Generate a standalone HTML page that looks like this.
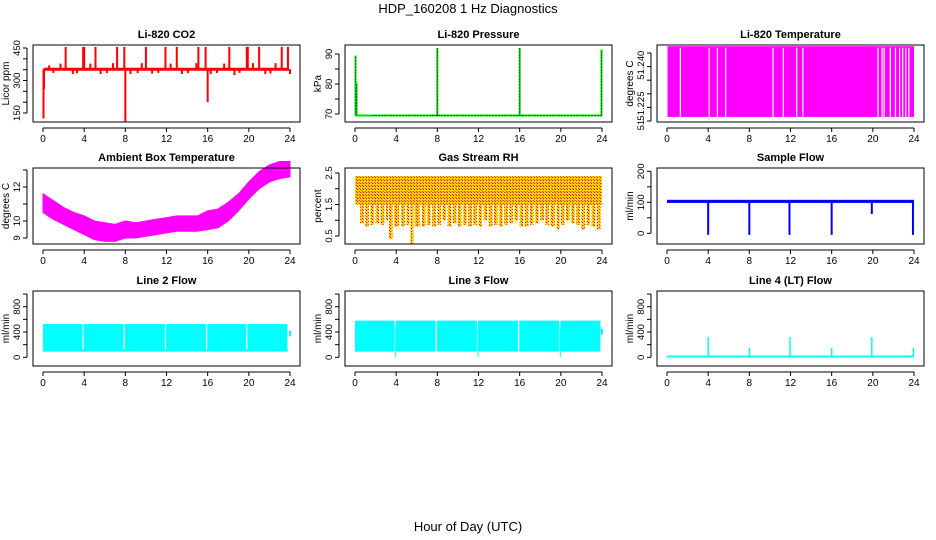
<!DOCTYPE html>
<html><head><meta charset="utf-8"><style>
body{margin:0;background:#fff;}
svg{display:block;font-family:"Liberation Sans",sans-serif;}
</style></head><body>
<svg id="chart" width="936" height="540" viewBox="0 0 936 540" xmlns="http://www.w3.org/2000/svg">
<defs>
<pattern id="rhpat" width="3" height="3" patternUnits="userSpaceOnUse">
<rect width="3" height="3" fill="#ffd000"/><rect width="1" height="1" fill="#ff0000"/><rect x="2" y="2" width="1" height="1" fill="#ff3000"/>
</pattern>
</defs>
<text x="468" y="13" text-anchor="middle" font-size="13">HDP_160208  1 Hz Diagnostics</text>
<text x="468" y="531" text-anchor="middle" font-size="13">Hour of Day (UTC)</text>
</svg>
<script>
// ---- data ----
const xTicks = [0,4,8,12,16,20,24];
// CO2
const co2Base = 352;
const co2SpikeHours = [0.05,0.1,2.2,3.9,4.0,5.1,7.2,7.9,8.0,10.0,11.9,13.0,15.1,15.8,16.0,18.1,19.8,19.9,21.0,23.2,23.8];
const co2SpikeValues = [125,260,455,455,455,455,455,455,108,455,455,455,455,455,200,455,455,455,455,455,455];
const co2SmallHours = [0.6,1.0,1.7,2.9,3.3,4.6,5.6,6.2,6.8,8.5,9.2,9.6,10.6,11.2,12.4,13.5,14.1,14.9,16.3,16.9,17.6,18.6,19.1,20.4,21.6,22.1,22.6,24.0];
const co2SmallValues = [370,335,378,330,333,378,330,334,380,330,334,380,332,335,378,330,334,380,330,335,378,325,335,380,330,332,380,330];
// Pressure
const presBase = 69.5;
const presSpikeHours = [0.05,0.15,8.0,16.0,23.95];
const presSpikeValues = [89.5,80.5,92,92,91.5];
// LI-820 temp
const tempLow = 51.2215, tempHigh = 51.2475;
const tempGapHours = [1.3,4.1,4.9,5.7,10.3,11.3,12.6,13.2,20.5,20.9,21.1,21.7,22.2,22.6,22.9,23.2,23.5];
// Ambient temp
const ambHours = [0,1,2,3,4,5,6,7,8,9,10,11,12,13,14,15,16,17,18,19,20,21,22,23,24];
const ambUpper = [11.6,11.2,10.8,10.5,10.3,10.0,9.9,9.8,10.0,9.9,10.0,10.1,10.2,10.3,10.3,10.3,10.6,10.7,11.1,11.6,12.3,12.9,13.3,13.5,13.5];
const ambLower = [10.5,10.1,9.8,9.5,9.2,8.9,8.8,8.8,9.0,9.0,9.1,9.2,9.3,9.4,9.4,9.4,9.5,9.6,10.0,10.6,11.3,11.9,12.3,12.5,12.6];
// Gas RH
const rhTop = 2.4;
const rhDipHours = [0.1,0.5,1.0,1.5,2.0,2.5,3.0,3.3,3.8,4.5,5.0,5.4,5.8,6.5,7.0,7.5,8.0,8.5,9.0,9.5,10.0,10.5,11.0,11.5,12.0,12.5,13.0,13.5,14.0,14.5,15.0,15.5,16.0,16.5,17.0,17.5,18.0,18.5,19.0,19.6,20.0,20.5,21.0,21.5,22.0,22.5,23.0,23.5,24.0];
const rhDipValues = [1.5,0.9,0.8,0.85,0.9,0.85,1.0,0.4,0.8,0.8,0.85,0.25,0.8,0.8,0.85,0.8,0.85,1.0,0.8,0.9,0.8,0.85,0.8,0.85,0.8,1.0,0.8,0.85,0.8,0.85,0.9,1.0,0.8,0.8,0.85,0.9,1.0,0.85,0.8,0.7,0.85,1.0,0.9,0.85,0.7,0.85,0.8,0.7,1.5];
// Sample flow
const sfBase = 103;
const sfDipHours = [4.0,8.0,11.9,16.0,19.9,23.9];
const sfDipValues = [-5,-5,-5,-5,62,-5];
// Line 2
const l2Low = 90, l2High = 525;
const l2GapHours = [3.9,7.9,11.9,15.9,19.8,23.8];
// Line 3
const l3Low = 90, l3High = 580;
const l3GapHours = [3.9,7.9,11.9,15.9,19.9,23.9];
const l3DipValues = [0,480,0,480,0,400];
// Line 4
const l4Base = 12;
const l4SpikeHours = [4.0,8.0,11.95,16.0,19.9,23.95];
const l4SpikeValues = [320,150,320,150,320,150];

// ---- helpers ----
const svg = document.getElementById('chart');
const NS = 'http://www.w3.org/2000/svg';
function mk(tag, attrs, parent){const e=document.createElementNS(NS,tag);for(const k in attrs)e.setAttribute(k,attrs[k]);(parent||svg).appendChild(e);return e;}
function panel(c,r,opt){
  const L=33+312*c, R=300+312*c, T=[45,168,291][r], B=[122,244,366][r];
  const x0=43+312*c, x1=290+312*c;
  const xs=h=>x0+(x1-x0)*h/24;
  const ys=v=>opt.p0+(opt.p1-opt.p0)*(v-opt.v0)/(opt.v1-opt.v0);
  const g=mk('g',{});
  
  
  const t=mk('text',{x:(L+R)/2,y:T-7,'text-anchor':'middle','font-size':11,'font-weight':'bold'},g);
  t.textContent=opt.title;
  
  
  const plot=mk('g',{},g);
  
  
  opt.draw(plot,xs,ys);
  const box=mk('rect',{x:L,y:T,width:R-L,height:B-T,fill:'none',stroke:'#000','stroke-width':1},g);
  
  
  mk('line',{x1:xs(0),x2:xs(24),y1:B+6,y2:B+6,stroke:'#000'},g);
  xTicks.forEach(h=>{
    mk('line',{x1:xs(h),x2:xs(h),y1:B+6,y2:B+10,stroke:'#000'},g);
    const l=mk('text',{x:xs(h),y:B+20,'text-anchor':'middle','font-size':10},g);
    l.textContent=h;
    
    
  });
  const yt=opt.ticks;
  mk('line',{x1:L-6,x2:L-6,y1:ys(yt[0]),y2:ys(yt[yt.length-1]),stroke:'#000'},g);
  yt.forEach(v=>mk('line',{x1:L-10,x2:L-6,y1:ys(v),y2:ys(v),stroke:'#000'},g));
  opt.labels.forEach((lab,i)=>{
    const y=ys(opt.labelVals[i]);
    const l=mk('text',{x:L-13,y:y,'text-anchor':'middle','font-size':9.5,transform:`rotate(-90 ${L-13} ${y})`},g);
    l.textContent=lab;
    
    
  });
  const yl=mk('text',{x:L-24,y:(T+B)/2,'text-anchor':'middle','font-size':10,transform:`rotate(-90 ${L-24} ${(T+B)/2})`},g);
  yl.textContent=opt.ylab;
  
  
}
function vline(p,x,y1,y2,col,w){return mk('line',{x1:x,x2:x,y1:y1,y2:y2,stroke:col,'stroke-width':w||1},p);}

// CO2
panel(0,0,{name:'co2-panel',title:'Li-820 CO2',ylab:'Licor ppm',v0:450,p0:48,v1:150,p1:113,
  ticks:[150,200,250,300,350,400,450],labels:['150','300','450'],labelVals:[150,300,450],
  draw:(p,xs,ys)=>{
    mk('line',{x1:xs(0.05),x2:xs(23.9),y1:ys(co2Base),y2:ys(co2Base),stroke:'#f00','stroke-width':3},p);
    co2SmallHours.forEach((h,i)=>vline(p,xs(h),ys(co2Base),ys(co2SmallValues[i]),'#f00',2));
    co2SpikeHours.forEach((h,i)=>vline(p,xs(h),ys(co2Base),ys(co2SpikeValues[i]),'#f00',2));
  }});
// Pressure
panel(1,0,{name:'pressure-panel',title:'Li-820 Pressure',ylab:'kPa',v0:90,p0:54,v1:70,p1:114,
  ticks:[70,75,80,85,90],labels:['70','80','90'],labelVals:[70,80,90],
  draw:(p,xs,ys)=>{
    mk('line',{x1:xs(0.05),x2:xs(24),y1:ys(presBase),y2:ys(presBase),stroke:'#00e000','stroke-width':2},p);
    mk('line',{x1:xs(1.7),x2:xs(24),y1:ys(presBase),y2:ys(presBase),stroke:'#000','stroke-width':1,'stroke-dasharray':'1,2'},p);
    presSpikeHours.forEach((h,i)=>{vline(p,xs(h),ys(presBase),ys(presSpikeValues[i]),'#00e000',2);
      mk('line',{x1:xs(h),x2:xs(h),y1:ys(presBase),y2:ys(presSpikeValues[i]),stroke:'#000','stroke-dasharray':'1,2'},p);});
  }});
// LI-820 temperature
panel(2,0,{name:'li820-temperature-panel',title:'Li-820 Temperature',ylab:'degrees C',v0:51.245,p0:53,v1:51.220,p1:121,
  ticks:[51.220,51.225,51.230,51.235,51.240,51.245],labels:['51.225','51.240','51'],labelVals:[51.2255,51.2405,51.2185],
  draw:(p,xs,ys)=>{
    mk('rect',{x:xs(0.05),y:ys(tempHigh),width:xs(24)-xs(0.05),height:ys(tempLow)-ys(tempHigh),fill:'#ff00ff'},p);
    tempGapHours.forEach(h=>vline(p,xs(h),ys(tempHigh)+1.5,ys(tempLow),'#fff',1.2));
  }});
// Ambient
panel(0,1,{name:'ambient-temperature-panel',title:'Ambient Box Temperature',ylab:'degrees C',v0:12,p0:187,v1:9,p1:238,
  ticks:[9,10,11,12,13],labels:['9','10','12'],labelVals:[9,10,12],
  draw:(p,xs,ys)=>{
    let d=ambHours.map((h,i)=>`${i?'L':'M'}${xs(h)},${ys(ambUpper[i])}`).join('');
    for(let i=ambHours.length-1;i>=0;i--)d+=`L${xs(ambHours[i])},${ys(ambLower[i])}`;
    mk('path',{d:d+'Z',fill:'#ff00ff',stroke:'#ff00ff','stroke-width':1},p);
  }});
// Gas RH
panel(1,1,{name:'gas-stream-rh-panel',title:'Gas Stream RH',ylab:'percent',v0:2.5,p0:173,v1:0.5,p1:236,
  ticks:[0.5,1,1.5,2,2.5],labels:['0.5','1.5','2.5'],labelVals:[0.5,1.5,2.5],
  draw:(p,xs,ys)=>{
    mk('rect',{x:xs(0),y:ys(rhTop),width:xs(24)-xs(0),height:ys(1.5)-ys(rhTop),fill:'url(#rhpat)'},p);
    rhDipHours.forEach((h,i)=>{
      const w=i<rhDipHours.length-1?(xs(rhDipHours[i+1])-xs(h)):2;
      mk('rect',{x:xs(h),y:ys(1.5)-1,width:Math.max(1,w*0.7),height:ys(rhDipValues[i])-ys(1.5)+1,fill:'url(#rhpat)'},p);
    });
  }});
// Sample flow
panel(2,1,{name:'sample-flow-panel',title:'Sample Flow',ylab:'ml/min',v0:200,p0:171.3,v1:0,p1:233.3,
  ticks:[0,50,100,150,200],labels:['0','100','200'],labelVals:[0,100,200],
  draw:(p,xs,ys)=>{
    mk('rect',{x:xs(0),y:ys(sfBase+5),width:xs(24)-xs(0),height:ys(sfBase-5)-ys(sfBase+5),fill:'#0000ff'},p);
    sfDipHours.forEach((h,i)=>vline(p,xs(h),ys(sfBase),ys(sfDipValues[i]),'#0000ff',2));
  }});
// Line 2
panel(0,2,{name:'line2-flow-panel',title:'Line 2 Flow',ylab:'ml/min',v0:800,p0:306.7,v1:0,p1:357.3,
  ticks:[0,200,400,600,800,1000],labels:['0','400','800'],labelVals:[0,400,800],
  draw:(p,xs,ys)=>{
    mk('rect',{x:xs(0),y:ys(l2High),width:xs(23.8)-xs(0),height:ys(l2Low)-ys(l2High),fill:'#00ffff'},p);
    l2GapHours.forEach(h=>vline(p,xs(h),ys(l2High),ys(l2Low+30),'#fff',1.2));
    vline(p,xs(24),ys(420),ys(330),'#00ffff',2);
  }});
// Line 3
panel(1,2,{name:'line3-flow-panel',title:'Line 3 Flow',ylab:'ml/min',v0:800,p0:306.7,v1:0,p1:357.3,
  ticks:[0,200,400,600,800,1000],labels:['0','400','800'],labelVals:[0,400,800],
  draw:(p,xs,ys)=>{
    mk('rect',{x:xs(0),y:ys(l3High),width:xs(23.9)-xs(0),height:ys(l3Low)-ys(l3High),fill:'#00ffff'},p);
    l3GapHours.forEach((h,i)=>{vline(p,xs(h),ys(l3High),ys(l3Low),'#fff',1.2);vline(p,xs(h+0.05),ys(480),ys(l3DipValues[i]),'#00ffff',1);});
    vline(p,xs(24),ys(450),ys(360),'#00ffff',2);
  }});
// Line 4
panel(2,2,{name:'line4-flow-panel',title:'Line 4 (LT) Flow',ylab:'ml/min',v0:800,p0:306.7,v1:0,p1:357.3,
  ticks:[0,200,400,600,800,1000],labels:['0','400','800'],labelVals:[0,400,800],
  draw:(p,xs,ys)=>{
    mk('line',{x1:xs(0),x2:xs(24),y1:ys(l4Base),y2:ys(l4Base),stroke:'#00ffff','stroke-width':2},p);
    l4SpikeHours.forEach((h,i)=>vline(p,xs(h),ys(l4Base),ys(l4SpikeValues[i]),'#00ffff',1.5));
  }});
</script>
</body></html>
